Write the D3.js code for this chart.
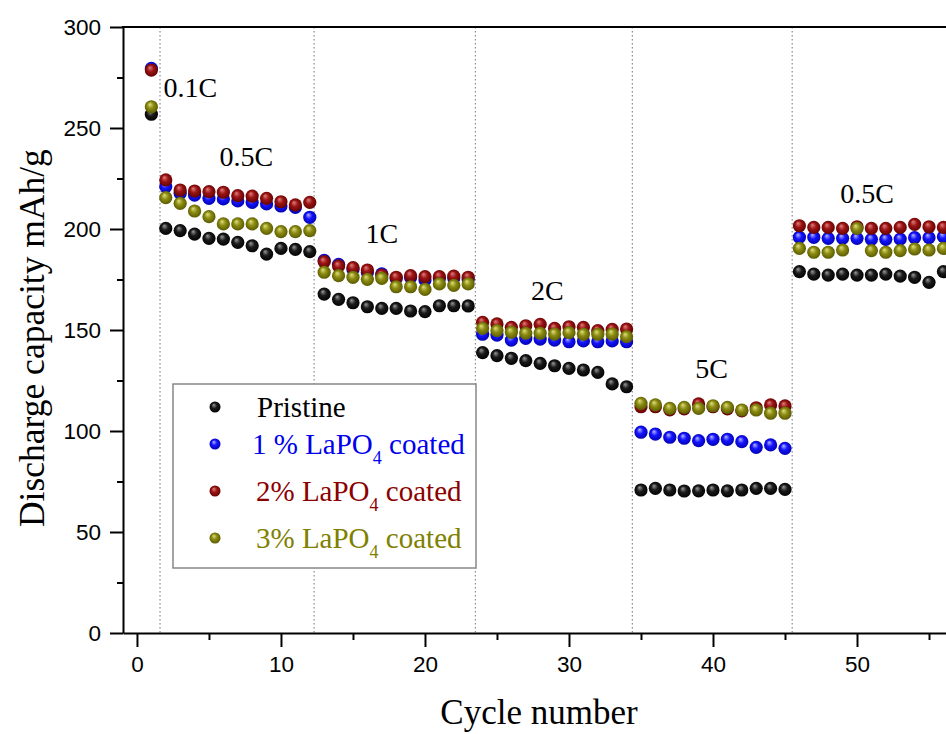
<!DOCTYPE html>
<html>
<head>
<meta charset="utf-8">
<script src="https://cdn.jsdelivr.net/npm/d3@7"></script>
<style>
	body { margin: 0; background: #fff; }
	svg { display: block; }
</style>
</head>
<body>
<div id="chart"></div>
<script>
const cycles = [
	1, 2, 3, 4, 5, 6, 7, 8, 9, 10, 11, 12, 13, 14, 15, 16, 17, 18, 19, 20,
	21, 22, 23, 24, 25, 26, 27, 28, 29, 30, 31, 32, 33, 34, 35, 36, 37, 38, 39, 40,
	41, 42, 43, 44, 45, 46, 47, 48, 49, 50, 51, 52, 53, 54, 55, 56
];

const pristine = [
	256.8,
	200.3, 199.2, 197.5, 195.4, 195.0, 193.4, 191.7, 187.6, 190.4, 189.9, 188.8,
	167.8, 165.2, 163.5, 161.5, 160.7, 160.7, 159.4, 159.1, 162.0, 162.0, 161.9,
	138.8, 137.3, 136.0, 134.8, 133.5, 132.3, 131.0, 130.2, 129.0, 123.3, 121.9,
	70.8, 71.6, 70.8, 70.3, 70.4, 70.8, 70.4, 70.8, 71.6, 71.6, 71.1,
	178.9, 177.7, 177.2, 177.7, 177.2, 177.2, 177.7, 176.7, 176.1, 173.6, 178.9
];
const coated1 = [
	279.5,
	221.0, 217.7, 216.8, 215.2, 214.9, 213.9, 213.2, 212.4, 211.4, 210.7, 205.8,
	184.5, 182.5, 180.0, 178.5, 177.8, 175.5, 176.0, 174.8, 175.5, 175.8, 175.0,
	147.9, 147.5, 145.0, 145.9, 145.5, 145.0, 144.2, 144.6, 144.2, 144.6, 144.2,
	99.4, 98.5, 96.9, 96.4, 95.2, 95.9, 95.9, 94.7, 91.9, 93.1, 91.4,
	195.9, 195.9, 195.4, 195.4, 195.4, 194.9, 194.9, 195.0, 195.7, 195.7, 196.2
];
const coated2 = [
	278.7,
	224.3, 219.3, 218.8, 218.5, 218.2, 216.5, 216.3, 215.2, 213.5, 211.9, 213.2,
	183.8, 181.7, 180.9, 179.7, 177.2, 176.1, 176.9, 176.4, 176.4, 176.7, 176.1,
	153.8, 153.0, 151.3, 152.1, 152.8, 150.8, 151.6, 151.3, 149.7, 150.3, 150.5,
	112.0, 112.0, 110.5, 111.0, 113.4, 112.0, 111.0, 110.0, 111.5, 112.9, 112.4,
	201.6, 200.8, 200.8, 200.3, 201.1, 200.3, 200.3, 200.8, 202.3, 201.1, 200.8
];
const coated3 = [
	260.5,
	215.5, 212.7, 208.9, 206.1, 202.5, 202.5, 202.5, 200.3, 198.7, 198.7, 199.2,
	178.6, 176.9, 176.1, 175.1, 175.6, 171.4, 171.4, 170.1, 172.8, 172.1, 172.8,
	150.8, 149.7, 148.9, 148.4, 148.4, 148.0, 148.7, 147.9, 147.9, 148.0, 146.7,
	113.7, 112.9, 111.2, 111.7, 111.2, 112.5, 111.7, 110.4, 110.4, 108.8, 108.8,
	190.4, 188.5, 188.5, 189.6, 200.3, 189.3, 188.5, 189.3, 190.1, 189.6, 190.4
];

// rate step boundaries (dotted lines) and rate labels, in data units
const boundaries = [1.6, 12.3, 23.5, 34.4, 45.5];
const rateLabels = ["0.1C", "0.5C", "1C", "2C", "5C", "0.5C"];
const rateLabelX = [3.7, 7.6, 17.0, 28.5, 39.9, 50.7];
const rateLabelY = [265.5, 231.3, 192.9, 164.9, 126.2, 213.0];

const yTicks = [0, 50, 100, 150, 200, 250, 300];
const yMinor = [25, 75, 125, 175, 225, 275];
const xTicks = [0, 10, 20, 30, 40, 50];
const xMinor = [5, 15, 25, 35, 45, 55];

const seriesNames = ["Pristine", "1 % LaPO|4| coated", "2% LaPO|4| coated", "3% LaPO|4| coated"];

const W = 946, H = 734;
const MARGIN = { top: 27, right: 0, bottom: 101, left: 123 };
const SERIF = "'Liberation Serif', 'Times New Roman', serif";
const SANS = "'Liberation Sans', Arial, sans-serif";

// colours: [legend text, highlight, body, shadow]
const palette = [
	["#000000", "#9a9a9a", "#1a1a1a", "#000000"],
	["#0000ee", "#b8b8ff", "#1414ff", "#0000a8"],
	["#8b0000", "#e08080", "#9c1414", "#5c0000"],
	["#808000", "#e0e080", "#8c8c12", "#545400"]
];
const values = [pristine, coated1, coated2, coated3];

const svg = d3.select("#chart").append("svg")
	.attr("width", W)
	.attr("height", H);

const defs = svg.append("defs");
palette.forEach((p, i) => {
	const grad = defs.append("radialGradient")
		.attr("id", "ball" + i)
		.attr("cx", "0.5").attr("cy", "0.5").attr("r", "0.55")
		.attr("fx", "0.38").attr("fy", "0.3");
	grad.append("stop").attr("offset", "0").attr("stop-color", p[1]);
	grad.append("stop").attr("offset", "0.45").attr("stop-color", p[2]);
	grad.append("stop").attr("offset", "1").attr("stop-color", p[3]);
});

const x = d3.scaleLinear()
	.domain([-0.97, 56.18])
	.range([MARGIN.left, W - MARGIN.right]);

const y = d3.scaleLinear()
	.domain([0, 300])
	.range([H - MARGIN.bottom, MARGIN.top]);

// dotted step separators
svg.append("g")
	.selectAll("line")
	.data(boundaries)
	.join("line")
	.attr("x1", d => x(d)).attr("x2", d => x(d))
	.attr("y1", y(300)).attr("y2", y(0))
	.attr("stroke", "#8a8a8a")
	.attr("stroke-width", 1.2)
	.attr("stroke-dasharray", "1.5,2.5");

// rate labels
svg.append("g")
	.selectAll("text")
	.data(rateLabels)
	.join("text")
	.attr("x", (d, i) => x(rateLabelX[i]))
	.attr("y", (d, i) => y(rateLabelY[i]))
	.attr("text-anchor", "middle")
	.style("font-family", SERIF)
	.style("font-size", "28px")
	.text(d => d);

// data points, pristine first so the coated series sit on top
values.forEach((vals, i) => {
	svg.append("g")
		.selectAll("circle")
		.data(cycles)
		.join("circle")
		.attr("cx", d => x(d))
		.attr("cy", (d, k) => y(vals[k]))
		.attr("r", 6.6)
		.attr("fill", `url(#ball${i})`);
});

// Y axis
const yAxis = svg.append("g")
	.attr("transform", `translate(${MARGIN.left},0)`)
	.call(d3.axisLeft(y).tickValues(yTicks).tickSize(13).tickSizeOuter(0).tickPadding(9));
yAxis.select(".domain").attr("stroke-width", 2);
yAxis.selectAll(".tick line").attr("stroke-width", 2);
yAxis.selectAll("text")
	.style("font-family", SANS)
	.style("font-size", "22.5px")
	.attr("fill", "#000");

svg.append("g")
	.attr("transform", `translate(${MARGIN.left},0)`)
	.call(d3.axisLeft(y).tickValues(yMinor).tickSize(6).tickFormat(""))
	.call(ax => ax.select(".domain").remove())
	.selectAll("line").attr("stroke-width", 2);

// X axis
const xAxis = svg.append("g")
	.attr("transform", `translate(0,${y(0)})`)
	.call(d3.axisBottom(x).tickValues(xTicks).tickSize(14).tickSizeOuter(0).tickPadding(9));
xAxis.select(".domain").attr("stroke-width", 2);
xAxis.selectAll(".tick line").attr("stroke-width", 2);
xAxis.selectAll("text")
	.style("font-family", SANS)
	.style("font-size", "22.5px")
	.attr("fill", "#000");

svg.append("g")
	.attr("transform", `translate(0,${y(0)})`)
	.call(d3.axisBottom(x).tickValues(xMinor).tickSize(7).tickFormat(""))
	.call(ax => ax.select(".domain").remove())
	.selectAll("line").attr("stroke-width", 2);

// top frame
svg.append("line")
	.attr("x1", MARGIN.left - 1).attr("x2", W)
	.attr("y1", y(300)).attr("y2", y(300))
	.attr("stroke", "#000")
	.attr("stroke-width", 2);

// axis titles
svg.append("text")
	.attr("x", 539)
	.attr("y", 724)
	.attr("text-anchor", "middle")
	.style("font-family", SERIF)
	.style("font-size", "35px")
	.text("Cycle number");

svg.append("text")
	.attr("transform", `translate(44,${y(146)}) rotate(-90)`)
	.attr("text-anchor", "middle")
	.style("font-family", SERIF)
	.style("font-size", "35.5px")
	.text("Discharge capacity mAh/g");

// legend
const legend = svg.append("g").attr("transform", "translate(173,384)");
legend.append("rect")
	.attr("width", 303)
	.attr("height", 184)
	.attr("fill", "#fff")
	.attr("stroke", "#888")
	.attr("stroke-width", 1.5);

const rowY = [23, 60, 107, 154];
const rowTextX = [84, 79, 83, 83];
seriesNames.forEach((name, i) => {
	legend.append("circle")
		.attr("cx", 42)
		.attr("cy", rowY[i])
		.attr("r", 5.5)
		.attr("fill", `url(#ball${i})`);
	const t = legend.append("text")
		.attr("x", rowTextX[i])
		.attr("y", rowY[i] + 10)
		.attr("fill", palette[i][0])
		.style("font-family", SERIF)
		.style("font-size", "29px");
	const parts = name.split("|");
	parts.forEach((part, k) => {
		const sub = k % 2 === 1;
		t.append("tspan")
			.attr("dy", sub ? 10 : (k > 0 ? -10 : 0))
			.style("font-size", sub ? "18px" : null)
			.text(part);
	});
});
</script>
</body>
</html>
